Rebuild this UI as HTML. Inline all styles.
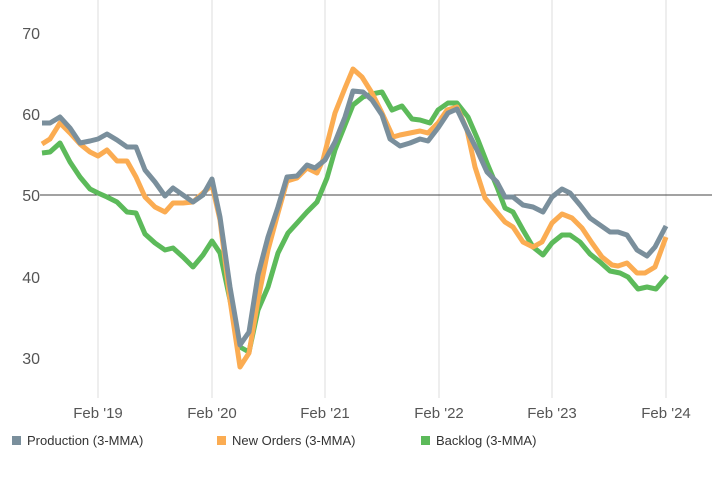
<!DOCTYPE html>
<html><head><meta charset="utf-8"><style>
body{margin:0;background:#fff;}
svg{display:block;font-family:"Liberation Sans",sans-serif;}
</style></head><body>
<svg width="720" height="480" viewBox="0 0 720 480">
<g stroke="#e3e3e3" stroke-width="1.2">
<line x1="98" y1="0" x2="98" y2="398"/><line x1="212" y1="0" x2="212" y2="398"/><line x1="325" y1="0" x2="325" y2="398"/><line x1="439" y1="0" x2="439" y2="398"/><line x1="552" y1="0" x2="552" y2="398"/><line x1="666" y1="0" x2="666" y2="398"/>
</g>
<line x1="40" y1="195" x2="712" y2="195" stroke="#444" stroke-width="1"/>
<g font-size="16" fill="#555" text-anchor="end">
<text x="40" y="39">70</text><text x="40" y="120">60</text><text x="40" y="201">50</text><text x="40" y="283">40</text><text x="40" y="364">30</text>
</g>
<g font-size="15" fill="#555" text-anchor="middle">
<text x="98" y="418">Feb '19</text><text x="212" y="418">Feb '20</text><text x="325" y="418">Feb '21</text><text x="439" y="418">Feb '22</text><text x="552" y="418">Feb '23</text><text x="666" y="418">Feb '24</text>
</g>
<g fill="none" stroke-width="5" stroke-linejoin="round">
<polyline stroke="#5cba5a" points="42,153 50,152 60,143 70,162 80,177 90,189 98,193 107,197 117,202 127,212 136,213 145,234 155,243 165,250 173,248 183,257 193,267 203,255 212,241 220,253 230,300 240,347 249,352 258,310 268,287 278,253 288,233 298,222 307,212 317,202 327,178 335,150 345,125 353,105 363,97 372,94 382,92 392,110 402,106 412,119 420,120 430,123 438,110 448,103 457,103 468,117 478,140 487,163 497,187 505,208 513,212 523,230 533,247 543,255 552,243 562,235 570,235 580,242 590,254 600,262 610,271 620,273 628,277 638,289 647,287 656,289 667,276"/>
<polyline stroke="#fbac52" points="42,144 50,139 60,123 70,133 80,144 90,152 98,156 107,150 117,161 127,161 136,177 145,197 155,207 165,212 173,203 183,203 193,202 203,193 212,185 220,220 230,300 240,367 249,353 258,300 268,250 278,213 287,181 297,178 307,168 317,173 323,160 335,113 345,88 353,69 362,77 372,93 382,113 393,137 400,135 410,133 420,131 428,133 438,123 447,110 457,107 467,130 475,167 485,198 495,210 505,222 513,227 523,242 533,247 542,242 552,223 562,214 572,218 582,228 592,243 602,257 612,265 618,266 627,263 637,273 645,273 655,267 666,237"/>
<polyline stroke="#7a8f9c" points="42,123 50,123 60,117 70,128 80,143 90,141 98,139 107,134 117,140 127,147 136,147 145,170 155,182 165,196 173,188 183,195 193,202 203,195 212,179 220,217 230,287 240,345 249,332 258,275 268,237 278,207 287,177 297,176 307,165 315,168 325,160 335,142 345,117 353,91 363,92 372,100 382,115 390,139 400,146 410,143 420,139 428,141 438,128 448,113 457,109 467,130 477,150 487,172 497,182 505,197 513,197 523,205 533,207 543,212 552,197 562,189 570,193 580,205 590,218 600,225 610,232 618,232 627,235 637,250 647,256 655,247 666,226"/>
</g>
<g font-size="13" fill="#333">
<rect x="12" y="436" width="9" height="9" fill="#7a8f9c"/><text x="27" y="445">Production (3-MMA)</text>
<rect x="217" y="436" width="9" height="9" fill="#fbac52"/><text x="232" y="445">New Orders (3-MMA)</text>
<rect x="421" y="436" width="9" height="9" fill="#5cba5a"/><text x="436" y="445">Backlog (3-MMA)</text>
</g>
</svg>
</body></html>
